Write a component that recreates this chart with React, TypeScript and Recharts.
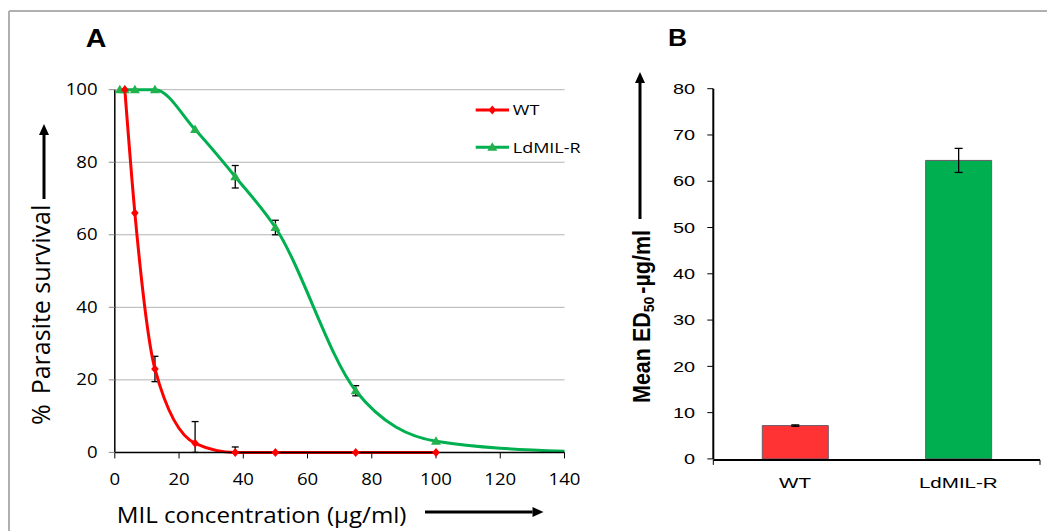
import React from 'react';
import { LineChart, Line, XAxis, YAxis, CartesianGrid, ErrorBar, BarChart, Bar, Cell } from 'recharts';

// ---------- Panel A data ----------
const concentrations = [1.5625, 3.125, 6.25, 12.5, 25, 37.5, 50, 75, 100, 140];
const measured = [true, true, true, true, true, true, true, true, true, false];
const wtSurvival: (number | null)[] = [null, 100, 66, 23, 2.5, 0, 0, 0, 0, null];
const wtError: (number[] | null)[] = [null, null, null, [3.5, 3.5], [2.5, 6], [0, 1.5], null, null, null, null];
const ldSurvival: (number | null)[] = [100, 100, 100, 100, 89, 76, 62, 17, 3.1, 0.3];
const ldError: (number[] | null)[] = [null, null, null, null, null, [3.1, 3.1], [2, 2], [1.4, 1.4], null, null];
const xTicksA = [0, 20, 40, 60, 80, 100, 120, 140];
const yTicksA = [0, 20, 40, 60, 80, 100];

// ---------- Panel B data ----------
const strains = ['WT', 'LdMIL-R'];
const ed50 = [7.2, 64.5];
const ed50Err = [0.15, 2.6];
const yTicksB = [0, 10, 20, 30, 40, 50, 60, 70, 80];
const categoryEdges = [0, 1, 2];
const barColors = ['#ff3333', '#00b050'];

const lineData = concentrations.map((c, i) => ({
  conc: c,
  measured: measured[i],
  wt: wtSurvival[i],
  wtErr: wtError[i],
  ld: ldSurvival[i],
  ldErr: ldError[i],
}));

const barData = strains.map((s, i) => ({ strain: s, ed50: ed50[i], err: ed50Err[i] }));

const RED = '#ff0000';
const GREEN = '#00b050';
const FONT_A = '"Open Sans", sans-serif';
const FONT_B = '"Liberation Sans", Arial, sans-serif';

const makeTick = (sx: number, fontSize: number, family: string, anchor: string, weight: any = 'normal') =>
  (props: any) => {
    const { x, y, payload } = props;
    return (
      <g transform={`translate(${x},${y}) scale(${sx},1)`}>
        <text x={0} y={0} dy="0.36em" textAnchor={anchor} fontSize={fontSize} fontFamily={family} fontWeight={weight} fill="#000">
          {payload.value}
        </text>
      </g>
    );
  };

const DiamondDot = (props: any) => {
  const { cx, cy, payload, value, index } = props;
  if (value == null || cy == null || !payload.measured) return <g key={`d${index}`} />;
  return (
    <path key={`d${index}`} d={`M${cx},${cy - 4.5}L${cx + 3.8},${cy}L${cx},${cy + 4.5}L${cx - 3.8},${cy}Z`} fill={RED} />
  );
};

const TriangleDot = (props: any) => {
  const { cx, cy, payload, value, index } = props;
  if (value == null || cy == null || !payload.measured) return <g key={`t${index}`} />;
  return (
    <path key={`t${index}`} d={`M${cx},${cy - 5}L${cx + 5},${cy + 3.5}L${cx - 5},${cy + 3.5}Z`} fill="#22b14c" />
  );
};

const Arrow = ({ x1, y1, x2, y2 }: { x1: number; y1: number; x2: number; y2: number }) => {
  const dx = x2 - x1;
  const dy = y2 - y1;
  const len = Math.sqrt(dx * dx + dy * dy);
  const ux = dx / len;
  const uy = dy / len;
  const hl = 11;
  const hw = 5;
  const bx = x2 - ux * hl;
  const by = y2 - uy * hl;
  return (
    <g>
      <line x1={x1} y1={y1} x2={bx} y2={by} stroke="#000" strokeWidth={3} />
      <path d={`M${x2},${y2}L${bx - uy * hw},${by + ux * hw}L${bx + uy * hw},${by - ux * hw}Z`} fill="#000" />
    </g>
  );
};

export default function App() {
  return (
    <div style={{ position: 'absolute', left: 0, top: 0, width: 1047, height: 531, background: '#fff', overflow: 'hidden' }}>
      <div style={{ position: 'absolute', left: 0, top: 0 }}>
        <LineChart
          width={600}
          height={531}
          data={lineData}
          margin={{ top: 89.7, right: 35.5, bottom: 38.6, left: 54.8 }}
        >
          <CartesianGrid vertical={false} stroke="#b3b3b3" strokeWidth={1} />
          <XAxis
            dataKey="conc"
            type="number"
            domain={[0, 140]}
            ticks={xTicksA}
            height={40}
            axisLine={{ stroke: '#000', strokeWidth: 1.5 }}
            tickLine={{ stroke: '#000' }}
            tickSize={6}
            tickMargin={20.6}
            tick={makeTick(1.2, 15.5, FONT_A, 'middle')}
            interval={0}
          />
          <YAxis
            type="number"
            domain={[0, 100]}
            ticks={yTicksA}
            width={60}
            axisLine={{ stroke: '#000', strokeWidth: 1.5 }}
            tickLine={{ stroke: '#888' }}
            tickSize={6}
            tickMargin={11.2}
            tick={makeTick(1.2, 15.5, FONT_A, 'end')}
            interval={0}
          />
          <Line
            dataKey="ld"
            type="monotone"
            stroke={GREEN}
            strokeWidth={3}
            dot={TriangleDot}
            activeDot={false}
            isAnimationActive={false}
          >
            <ErrorBar dataKey="ldErr" direction="y" width={3.5} stroke="#000" strokeWidth={1.3} isAnimationActive={false} />
          </Line>
          <Line
            dataKey="wt"
            type="monotone"
            stroke={RED}
            strokeWidth={3}
            dot={DiamondDot}
            activeDot={false}
            isAnimationActive={false}
          >
            <ErrorBar dataKey="wtErr" direction="y" width={3.5} stroke="#000" strokeWidth={1.3} isAnimationActive={false} />
          </Line>
        </LineChart>
      </div>

      <div style={{ position: 'absolute', left: 600, top: 0 }}>
        <BarChart
          width={447}
          height={531}
          data={barData}
          margin={{ top: 88.7, right: 7, bottom: 70.1, left: 53.3 }}
          barSize={66}
        >
          <XAxis
            xAxisId="edge"
            type="number"
            domain={[0, 2]}
            ticks={categoryEdges}
            height={1}
            axisLine={{ stroke: '#000', strokeWidth: 2 }}
            tickLine={{ stroke: '#000' }}
            tickSize={5}
            tick={() => <g />}
            interval={0}
          />
          <XAxis
            xAxisId="cat"
            dataKey="strain"
            type="category"
            height={1}
            axisLine={false}
            tickLine={false}
            tickSize={6}
            tickMargin={18}
            tick={makeTick(1.37, 15, FONT_B, 'middle')}
            interval={0}
          />
          <YAxis
            type="number"
            domain={[0, 80]}
            ticks={yTicksB}
            width={60}
            axisLine={{ stroke: '#000', strokeWidth: 2 }}
            tickLine={{ stroke: '#000' }}
            tickSize={6}
            tickMargin={12.3}
            tick={makeTick(1.37, 14.5, FONT_B, 'end')}
            interval={0}
          />
          <Bar xAxisId="cat" dataKey="ed50" isAnimationActive={false} stroke="#6b5a66" strokeWidth={1}>
            {barData.map((d, i) => (
              <Cell key={d.strain} fill={barColors[i]} />
            ))}
            <ErrorBar dataKey="err" direction="y" width={4} stroke="#000" strokeWidth={1.3} isAnimationActive={false} />
          </Bar>
        </BarChart>
      </div>

      <svg
        width={1047}
        height={531}
        style={{ position: 'absolute', left: 0, top: 0, pointerEvents: 'none' }}
      >
        {/* frame */}
        <line x1={9} y1={11} x2={1047} y2={11} stroke="#b0b0b0" strokeWidth={2} />
        <line x1={9} y1={11} x2={9} y2={531} stroke="#b0b0b0" strokeWidth={2} />

        {/* panel letters */}
        <g transform="translate(96,47.4) scale(1.1,1)">
          <text textAnchor="middle" fontFamily={FONT_B} fontWeight="bold" fontSize={26} fill="#000">A</text>
        </g>
        <g transform="translate(677.5,45.7) scale(1.1,1)">
          <text textAnchor="middle" fontFamily={FONT_B} fontWeight="bold" fontSize={24} fill="#000">B</text>
        </g>

        {/* legend A */}
        <line x1={475.7} y1={110} x2={509} y2={110} stroke={RED} strokeWidth={3} />
        <path d="M492.3,105.5L496.1,110L492.3,114.5L488.5,110Z" fill={RED} />
        <g transform="translate(512.8,110) scale(1.2,1)">
          <text dy="0.36em" fontFamily={FONT_A} fontSize={15} fill="#000">WT</text>
        </g>
        <line x1={475.7} y1={147.3} x2={509} y2={147.3} stroke={GREEN} strokeWidth={3} />
        <path d="M492.3,142.3L497.3,150.8L487.3,150.8Z" fill="#22b14c" />
        <g transform="translate(512.8,147.3) scale(1.2,1)">
          <text dy="0.36em" fontFamily={FONT_A} fontSize={15} fill="#000">LdMIL-R</text>
        </g>

        {/* axis titles A */}
        <g transform="translate(116.7,523) scale(1.15,1)">
          <text fontFamily={FONT_A} fontSize={21} fill="#000">MIL concentration (µg/ml)</text>
        </g>
        <Arrow x1={425} y1={512} x2={543.5} y2={512} />
        <g transform="translate(49.7,425) scale(1.05,1) rotate(-90)">
          <text fontFamily={FONT_A} fontSize={25} fill="#000">
            <tspan>%</tspan>
            <tspan dx={10}>Parasite survival</tspan>
          </text>
        </g>
        <Arrow x1={44} y1={199} x2={44} y2={124} />

        {/* axis title B */}
        <g transform="translate(650,403) scale(1.1,1) rotate(-90)">
          <text fontFamily={FONT_B} fontWeight="bold" fontSize={21.5} fill="#000">
            <tspan>Mean ED</tspan>
            <tspan fontSize={14} dy={4}>50</tspan>
            <tspan dy={-4} dx={3}>-µg/ml</tspan>
          </text>
        </g>
        <Arrow x1={640} y1={219} x2={640} y2={72} />
      </svg>
    </div>
  );
}
